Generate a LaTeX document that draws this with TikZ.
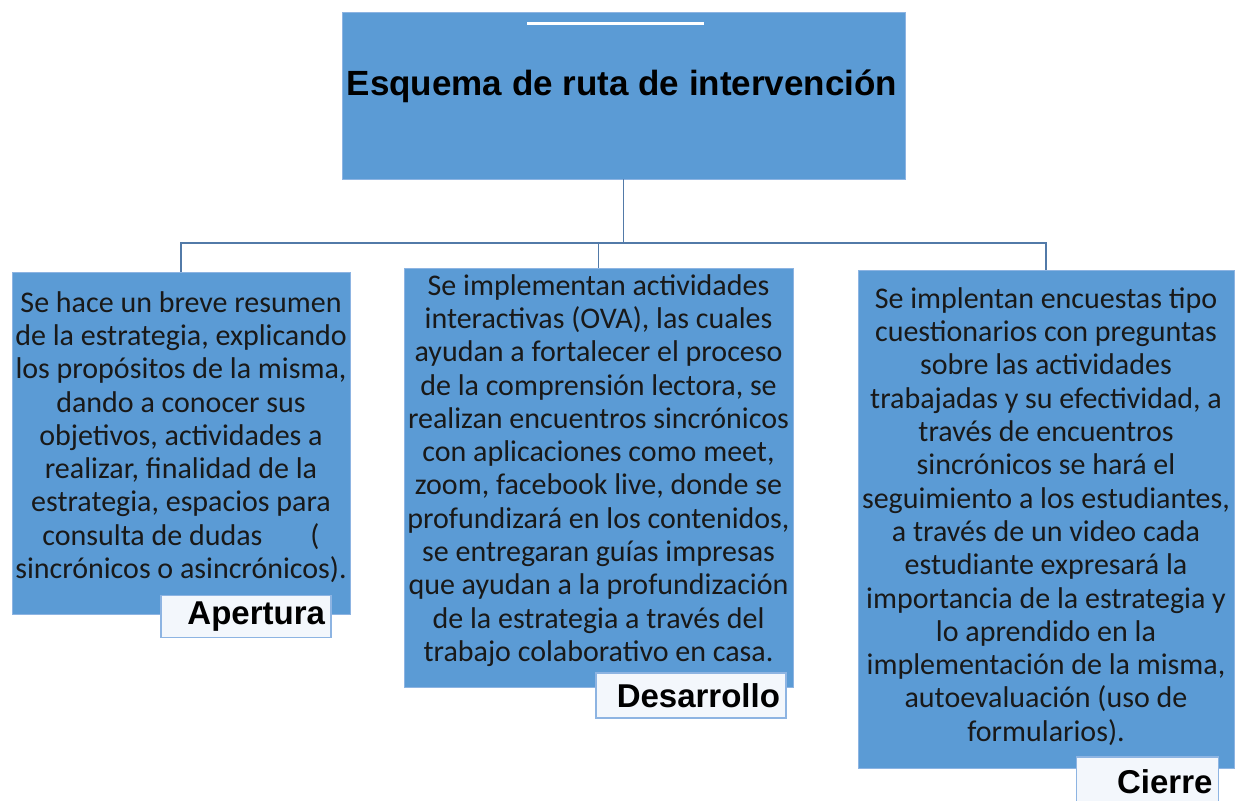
\documentclass[tikz,border=0pt]{standalone}
\usepackage{fontspec}
\setmainfont{Carlito}
\newfontfamily\arialfont{Liberation Sans}
\usepackage{tikz}
\usetikzlibrary{positioning}
\definecolor{boxblue}{RGB}{91,155,213}
\definecolor{boxedge}{RGB}{141,180,226}
\definecolor{linkblue}{RGB}{82,122,168}
\definecolor{tagfill}{RGB}{243,247,252}

\begin{document}
\begin{tikzpicture}[x=0.5pt, y=-0.5pt, semithick,
  blk/.style={rectangle, fill=boxblue, draw=boxedge, line width=0.4pt, inner sep=0pt},
  txt/.style={inner sep=0pt, align=center, text=black!90, font=\fontsize{15}{16.65}\selectfont},
  tag/.style={rectangle, fill=tagfill, draw=boxedge, line width=0.7pt, inner sep=3pt, align=right,
    font=\arialfont\bfseries\fontsize{16.5}{19}\selectfont},
  link/.style={draw=linkblue, line width=0.75pt}]
	\useasboundingbox (0,0) rectangle (1235,801);
	\node[blk, minimum width=281.5pt, minimum height=83.5pt] (top) at (623.5,95.5) {};
	\node[font=\arialfont\bfseries\fontsize{17.5}{21}\selectfont, inner sep=0pt] (title) at (622,86) {Esquema de ruta de intervención};
	\draw[white, line width=1.5pt] (527,24) -- (704,24);

	\node[blk, minimum width=169pt, minimum height=171pt] (open) at (181,443) {};
	\node[blk, minimum width=194.5pt, minimum height=209.5pt] (dev) at (598.5,477.5) {};
	\node[blk, minimum width=188pt, minimum height=249pt] (close) at (1046,519) {};

	\node[txt] (opentext) at ([yshift=3pt]open.center) {Se hace un breve resumen\\ de la estrategia, explicando\\ los propósitos de la misma,\\ dando a conocer sus\\ objetivos, actividades a\\ realizar, finalidad de la\\ estrategia, espacios para\\ consulta de dudas\hspace{24pt}(\\ sincrónicos o asincrónicos).};
	\node[txt] (devtext) at ([yshift=3.5pt]dev.center) {Se implementan actividades\\ interactivas (OVA), las cuales\\ ayudan a fortalecer el proceso\\ de la comprensión lectora, se\\ realizan encuentros sincrónicos\\ con aplicaciones como meet,\\ zoom, facebook live, donde se\\ profundizará en los contenidos,\\ se entregaran guías impresas\\ que ayudan a la profundización\\ de la estrategia a través del\\ trabajo colaborativo en casa.};
	\node[txt] (closetext) at ([yshift=1.25pt]close.center) {Se implentan encuestas tipo\\ cuestionarios con preguntas\\ sobre las actividades\\ trabajadas y su efectividad, a\\ través de encuentros\\ sincrónicos se hará el\\ seguimiento a los estudiantes,\\ a través de un video cada\\ estudiante expresará la\\ importancia de la estrategia y\\ lo aprendido en la\\ implementación de la misma,\\ autoevaluación (uso de\\ formularios).};

	\node[tag, text width=79pt, minimum height=19.5pt] (tagopen) at (246,616.5) {Apertura};
	\node[tag, text width=89pt, minimum height=22.5pt] (tagdev) at (691,695.5) {Desarrollo};
	\node[tag, text width=65pt, minimum height=25pt] (tagclose) at (1147.5,782) {Cierre};

	\coordinate (bus) at (0,243);
	\path[link] (top.south) edge (top.south |- bus)
		(dev.north) edge (dev.north |- bus);
	\draw[link] (open.north) -- (open.north |- bus) -| (close.north);
\end{tikzpicture}
\end{document}
